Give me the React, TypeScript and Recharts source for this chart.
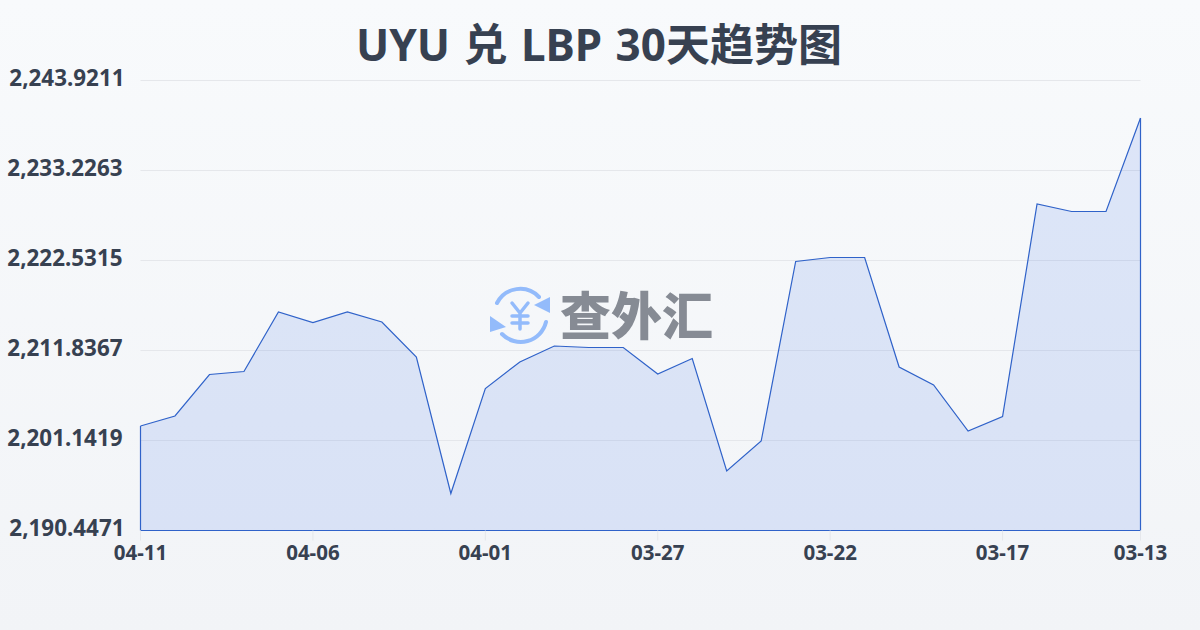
import { AreaChart, Area, XAxis, YAxis, CartesianGrid, ReferenceLine } from 'recharts';

const dates = [
  '04-11', '04-10', '04-09', '04-08', '04-07', '04-06', '04-05', '04-04', '04-03', '04-02',
  '04-01', '03-31', '03-30', '03-29', '03-28', '03-27', '03-26', '03-25', '03-24', '03-23',
  '03-22', '03-21', '03-20', '03-19', '03-18', '03-17', '03-16', '03-15', '03-14', '03-13',
];
const rates = [
  2202.865, 2204.053, 2208.984, 2209.341, 2216.412, 2215.164, 2216.412, 2215.223, 2211.064, 2194.844,
  2207.321, 2210.47, 2212.371, 2212.193, 2212.193, 2209.044, 2210.886, 2197.517, 2201.082, 2222.413,
  2222.888, 2222.888, 2209.876, 2207.737, 2202.271, 2203.994, 2229.245, 2228.354, 2228.354, 2239.465,
];
const xTicks = ['04-11', '04-06', '04-01', '03-27', '03-22', '03-17', '03-13'];
const yTicks = [2190.4471, 2201.1419, 2211.8367, 2222.5315, 2233.2263, 2243.9211];

const data = dates.map((d, i) => ({ date: d, rate: rates[i] }));

const sans = '"Noto Sans", "Noto Sans CJK SC", sans-serif';
const lineColor = '#2f62c9';

const fmt = (v: number) => v.toLocaleString('en-US', { minimumFractionDigits: 4, maximumFractionDigits: 4 });

// first and last y labels sit 2px further right in the original
function YTick({ x, y, payload, index }: any) {
  const isEnd = index === 0 || index === yTicks.length - 1;
  return (
    <text
      x={x + (isEnd ? 2 : 0)}
      y={y - 2}
      dy="0.355em"
      textAnchor="end"
      fontSize={22.4}
      fontWeight={700}
      fill="#374151"
      fontFamily={sans}
    >
      {fmt(payload.value)}
    </text>
  );
}

function Watermark() {
  return (
    <svg width={1200} height={630} style={{ position: 'absolute', left: 0, top: 0 }}>
      <g fill="none" stroke="#93bbfb" strokeWidth={4} strokeLinecap="round">
        <path d="M497 303 A26 26 0 0 1 539 297" />
        <path d="M546 322 A26 26 0 0 1 502 334" />
        <path d="M512 303 L520 313 L528 303 M512 316 H528 M512 323 H528 M520 313 V329" strokeWidth={3.5} />
      </g>
      <path d="M550 297 V313 L534 305 Z M490 316 V332 L506 327 Z" fill="#93bbfb" />
      <text x={560} y={335} fontSize={51} fontWeight={900} fill="#868b94" fontFamily='"Noto Sans CJK SC", sans-serif'>
        查外汇
      </text>
    </svg>
  );
}

export default function App() {
  const first = dates[0];
  const last = dates[dates.length - 1];
  const bottom = yTicks[0];
  return (
    <div
      style={{
        position: 'absolute', left: 0, top: 0, width: 1200, height: 630, overflow: 'hidden',
        background: 'linear-gradient(180deg, #f8fafc 0%, #f2f4f7 100%)',
      }}
    >
      <Watermark />
      <div
        style={{
          position: 'absolute', left: 0, top: 14, width: 1198, textAlign: 'center',
          fontFamily: sans, fontSize: 44, fontWeight: 700, color: '#374151', lineHeight: '60px',
          wordSpacing: 2,
        }}
      >
        UYU 兑 LBP 30天趋势图
      </div>
      <div style={{ position: 'absolute', left: 0, top: 0 }}>
        <AreaChart width={1200} height={630} data={data} margin={{ top: 80.5, right: 59.5, bottom: 69.5, left: 0.5 }}>
          <CartesianGrid horizontal vertical={false} stroke="#e5e7eb" strokeWidth={1} />
          <XAxis
            dataKey="date"
            ticks={xTicks}
            interval={0}
            height={30}
            axisLine={false}
            tickSize={10}
            tickMargin={5}
            tickLine={{ stroke: '#e5e7eb' }}
            tick={{ fontSize: 20.5, fontWeight: 700, fill: '#374151', fontFamily: sans }}
          />
          <YAxis
            type="number"
            domain={[yTicks[0], yTicks[yTicks.length - 1]]}
            ticks={yTicks}
            interval={0}
            width={140}
            axisLine={false}
            tickLine={false}
            tickSize={0}
            tickMargin={18}
            tick={YTick}
          />
          <Area
            type="linear"
            dataKey="rate"
            stroke={lineColor}
            strokeWidth={1.2}
            fill="#2563eb"
            fillOpacity={0.125}
            dot={false}
            activeDot={false}
            isAnimationActive={false}
          />
          <ReferenceLine ifOverflow="visible" segment={[{ x: first, y: bottom }, { x: first, y: rates[0] }]} stroke={lineColor} strokeWidth={1.2} />
          <ReferenceLine ifOverflow="visible" segment={[{ x: last, y: bottom }, { x: last, y: rates[rates.length - 1] }]} stroke={lineColor} strokeWidth={1.2} />
          <ReferenceLine ifOverflow="visible" segment={[{ x: first, y: bottom }, { x: last, y: bottom }]} stroke={lineColor} strokeWidth={1.2} />
        </AreaChart>
      </div>
    </div>
  );
}
